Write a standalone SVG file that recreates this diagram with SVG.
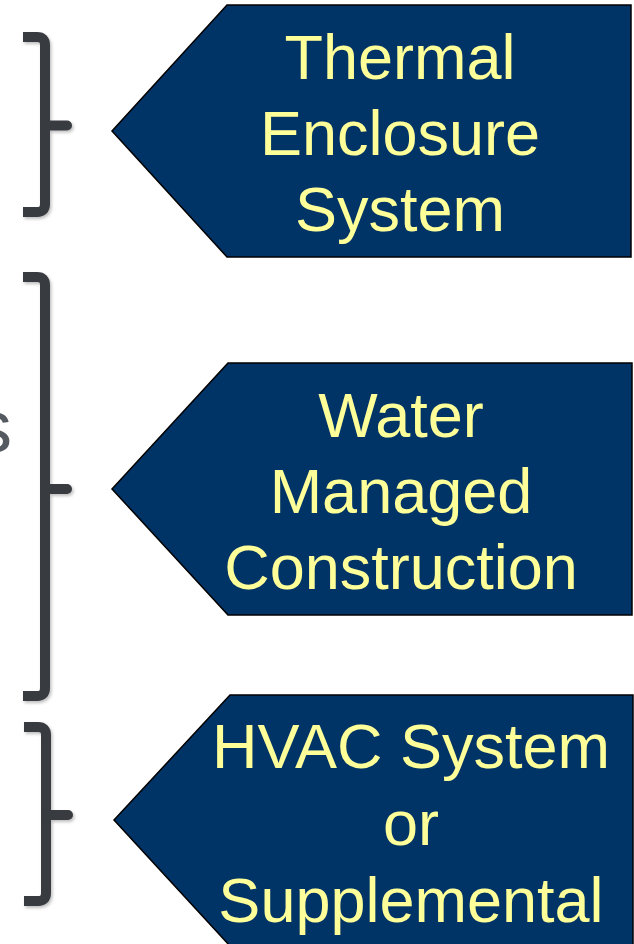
<svg xmlns="http://www.w3.org/2000/svg" width="634" height="944" viewBox="0 0 634 944">
  <style>
    .tag { fill: #003366; stroke: #000000; stroke-width: 1.5; stroke-linejoin: miter; }
    .lbl { font-family: "Liberation Sans", Arial, sans-serif; font-size: 63px; fill: #FFFF99; text-anchor: middle; }
    .brace { fill: none; stroke: #373b40; stroke-width: 10; stroke-linecap: butt; stroke-linejoin: round; }
    .tick { fill: none; stroke: #373b40; stroke-width: 10; stroke-linecap: round; }
    .frag { font-family: "Liberation Sans", Arial, sans-serif; font-size: 74px; fill: #555a60; text-anchor: end; }
  </style>
  <defs>
    <filter id="sh" x="-20%" y="-5%" width="160%" height="115%">
      <feDropShadow dx="1.5" dy="2" stdDeviation="1.5" flood-color="#000000" flood-opacity="0.25"/>
    </filter>
  </defs>
  <rect width="634" height="944" fill="#ffffff"/>

  <text class="frag" x="12" y="452">s</text>

  <g id="connectors" filter="url(#sh)">
    <g id="brace1">
      <path class="brace" d="M23,37 H37 Q45,37 45,45 V204 Q45,212 37,212 H23"/>
      <path class="tick" d="M45,125.5 H67"/>
    </g>
    <g id="brace2">
      <path class="brace" d="M23,277 H37 Q45,277 45,285 V688 Q45,696 37,696 H23"/>
      <path class="tick" d="M45,489 H67"/>
    </g>
    <g id="brace3">
      <path class="brace" d="M24,727 H38 Q46,727 46,735 V893 Q46,901 38,901 H24"/>
      <path class="tick" d="M46,815 H68"/>
    </g>
  </g>

  <g id="node-thermal">
    <polygon class="tag" points="112,131 227,5 631,5 631,257 227,257"/>
    <text class="lbl" x="400" y="79">Thermal</text>
    <text class="lbl" x="400" y="155">Enclosure</text>
    <text class="lbl" x="400" y="231">System</text>
  </g>

  <g id="node-water">
    <polygon class="tag" points="112,489 228,363 632,363 632,615 228,615"/>
    <text class="lbl" x="401" y="437">Water</text>
    <text class="lbl" x="401" y="513">Managed</text>
    <text class="lbl" x="401" y="589">Construction</text>
  </g>

  <g id="node-hvac">
    <polygon class="tag" points="114,820 230,695 633,695 633,946 230,946"/>
    <text class="lbl" x="411" y="768">HVAC System</text>
    <text class="lbl" x="411" y="845">or</text>
    <text class="lbl" x="411" y="922">Supplemental</text>
  </g>
</svg>
